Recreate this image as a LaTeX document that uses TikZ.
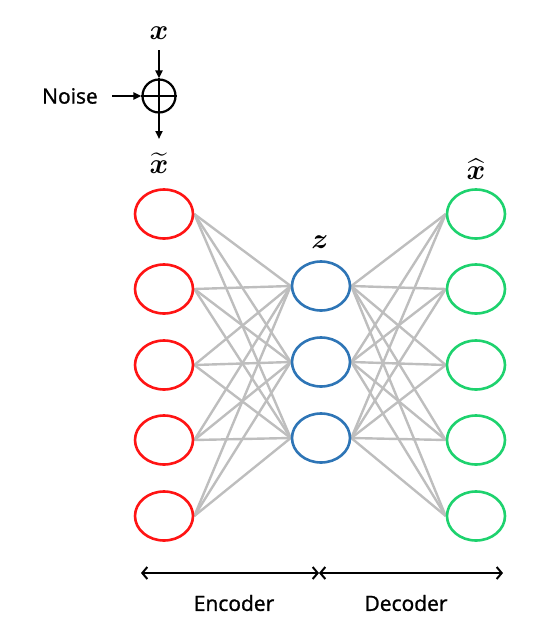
\documentclass[tikz,border=0pt]{standalone}
\usepackage{amsmath}
\usepackage{bm}
\usepackage{fontspec}
\setmainfont{Open Sans}
\newfontfamily\lblfont[FakeBold=1.2]{Open Sans}
\usetikzlibrary{arrows.meta,shapes.geometric,backgrounds}
\definecolor{encred}{RGB}{255,20,20}
\definecolor{zblue}{RGB}{46,117,182}
\definecolor{decgreen}{RGB}{30,210,110}
\definecolor{edgegray}{RGB}{190,190,190}
\begin{document}
\begin{tikzpicture}[x=1pt,y=-1pt,
  neuron/.style={ellipse,draw,line width=2.6pt,minimum width=58pt,minimum height=49pt,inner sep=0pt},
  conn/.style={draw=edgegray,line width=2.4pt},
  sym/.style={font=\LARGE,scale=1.65,transform shape},
  lbl/.style={font=\lblfont\fontsize{21}{24}\selectfont},
  flow/.style={line width=2pt,-{Triangle[length=8pt,width=7pt]}},
  span/.style={line width=2pt,{Straight Barb[length=5pt,width=12pt]}-{Straight Barb[length=5pt,width=12pt]}}]
\useasboundingbox (0,0) rectangle (552,632);
% nodes
\foreach \i/\y in {1/214,2/289,3/365,4/440,5/516}{
  \node[neuron,draw=encred] (r\i) at (164,\y) {};
  \node[neuron,draw=decgreen] (g\i) at (476,\y) {};
}
\foreach \i/\y in {1/286,2/362,3/438}{
  \node[neuron,draw=zblue] (b\i) at (321,\y) {};
}
% connections
\begin{scope}[on background layer]
\foreach \i in {1,...,5}{
  \foreach \j in {1,2,3}{
    \draw[conn] (r\i.east) -- (b\j.west);
    \draw[conn] (b\j.east) -- (g\i.west);
  }
}
\end{scope}
% labels
\node[sym] (xin) at (159,33) {$\bm{x}$};
\node[sym] (xt) at (159,163) {$\widetilde{\bm{x}}$};
\node[sym] (xh) at (476,169) {$\widehat{\bm{x}}$};
\node[sym] (zl) at (320,242) {$\bm{z}$};
% noise adder
\node[circle,draw,line width=2.2pt,minimum size=33pt,inner sep=0pt] (add) at (159,96) {};
\draw[line width=2.2pt] (add.north) -- (add.south) (add.west) -- (add.east);
\node[lbl] (noise) at (70,96) {Noise};
\coordinate (xtop) at (159,50);
\coordinate (xbot) at (159,139);
\coordinate (ntip) at (112,96);
\draw[flow] (xtop) -- (add.north);
\draw[flow] (ntip) -- (add.west);
\draw[flow] (add.south) -- (xbot);
% encoder / decoder spans
\coordinate (sl) at (141,573);
\coordinate (sm) at (319,573);
\coordinate (sr) at (503,573);
\draw[span] (sl) -- (sm);
\draw[span] (sm) -- (sr);
\node[lbl] (enc) at (234,603) {Encoder};
\node[lbl] (dec) at (406,603) {Decoder};
\end{tikzpicture}
\end{document}
